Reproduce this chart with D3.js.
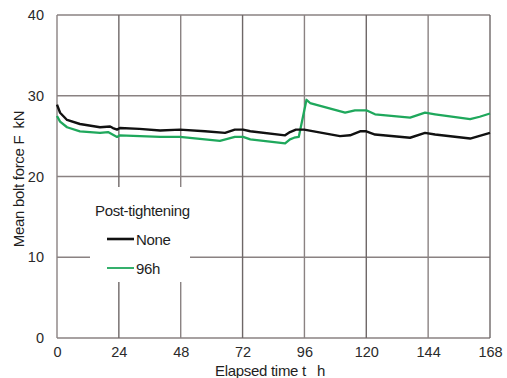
<!DOCTYPE html>
<html>
<head>
<meta charset="utf-8">
<script src="https://cdn.jsdelivr.net/npm/d3@7"></script>
<style>
  html, body { margin: 0; padding: 0; background: #fff; }
  svg { display: block; font-family: "Liberation Sans", Arial, sans-serif; }
</style>
</head>
<body>
<svg id="chart" width="507" height="378"></svg>
<script>
// Mean bolt force over elapsed time, with and without post-tightening at 96 h
const xTicks = [0, 24, 48, 72, 96, 120, 144, 168];
const yTicks = [0, 10, 20, 30, 40];

const noneHours = [0, 1.2, 3.9, 8.9, 16.7, 20.6, 21.7, 23.3, 24.4, 32, 40, 47.7, 57.4, 65.2, 69, 72.2, 75, 88.5, 90.4, 92.7, 95.9, 109.8, 113.7, 117.6, 120, 123.4, 137, 142.8, 146.7, 160.3, 168];
const noneForce = [28.9, 27.9, 27.0, 26.5, 26.1, 26.2, 26.0, 25.8, 26.0, 25.9, 25.7, 25.8, 25.6, 25.4, 25.8, 25.8, 25.6, 25.1, 25.5, 25.8, 25.8, 25.0, 25.1, 25.6, 25.6, 25.2, 24.8, 25.4, 25.2, 24.7, 25.4];

const retightHours = [0, 1.2, 3.9, 8.9, 16.7, 19.8, 23.3, 24.4, 40, 47.7, 63.2, 69, 72.2, 75, 88.5, 90.4, 92, 93.8, 96.8, 98.2, 111.8, 115.6, 120, 123.4, 137, 142.8, 146.7, 160.3, 164, 168];
const retightForce = [27.5, 26.8, 26.1, 25.6, 25.4, 25.5, 24.9, 25.1, 24.9, 24.9, 24.4, 24.9, 24.9, 24.6, 24.1, 24.6, 24.8, 24.9, 29.5, 29.1, 27.9, 28.2, 28.2, 27.7, 27.3, 27.9, 27.7, 27.1, 27.4, 27.8];

const seriesNames = ["None", "96h"];
const seriesColors = ["#111111", "#1fa85c"];

const margin = { left: 57, right: 17, top: 15, bottom: 40 };
const width = 507, height = 378;
const svg = d3.select("#chart");

const x = d3.scaleLinear().domain([0, 168]).range([margin.left, width - margin.right]);
const y = d3.scaleLinear().domain([0, 40]).range([height - margin.bottom, margin.top]);

const gridColor = "#8a8282";

// grid
svg.append("g").selectAll("line").data(yTicks).join("line")
  .attr("x1", x(0)).attr("x2", x(168))
  .attr("y1", d => y(d)).attr("y2", d => y(d))
  .attr("stroke", gridColor).attr("stroke-width", 1.4);
svg.append("g").selectAll("line").data(xTicks).join("line")
  .attr("y1", y(0)).attr("y2", y(40))
  .attr("x1", d => x(d)).attr("x2", d => x(d))
  .attr("stroke", d => (d / 24) % 2 === 1 ? "#6e6767" : gridColor)
  .attr("stroke-width", 1.4);

// tick labels
const xAxis = d3.axisBottom(x).tickValues(xTicks).tickSize(0).tickPadding(9);
const gx = svg.append("g").attr("transform", `translate(0,${y(0)})`).call(xAxis);
const yAxis = d3.axisLeft(y).tickValues(yTicks).tickSize(0).tickPadding(13);
const gy = svg.append("g").attr("transform", `translate(${x(0)},0)`).call(yAxis);
[gx, gy].forEach(g => {
  g.select(".domain").remove();
  g.selectAll("text").attr("font-size", 14.5).attr("fill", "#2a2a2a")
    .attr("font-family", "Liberation Sans, Arial, sans-serif");
});

// axis titles
svg.append("text")
  .attr("x", 270).attr("y", 376)
  .attr("text-anchor", "middle").attr("font-size", 15).attr("letter-spacing", -0.3).attr("fill", "#1e1e1e")
  .text("Elapsed time t\u2002 h");
svg.append("text")
  .attr("transform", `translate(24,179) rotate(-90)`)
  .attr("text-anchor", "middle").attr("font-size", 15).attr("letter-spacing", -0.3).attr("fill", "#1e1e1e")
  .text("Mean bolt force F\u2002kN");

// legend panel
svg.append("rect").attr("x", 90).attr("y", 187).attr("width", 100).attr("height", 95).attr("fill", "#fff");
svg.append("text").attr("x", 95).attr("y", 216).attr("font-size", 15).attr("letter-spacing", -0.35).attr("fill", "#1e1e1e").text("Post-tightening");
seriesNames.forEach((n, i) => {
  const ly = 239 + i * 29;
  svg.append("line").attr("x1", 107).attr("x2", 134).attr("y1", ly).attr("y2", ly)
    .attr("stroke", seriesColors[i]).attr("stroke-width", i === 0 ? 2.6 : 1.8);
  svg.append("text").attr("x", 136).attr("y", ly + 5.5).attr("font-size", 15).attr("letter-spacing", -0.3).attr("fill", "#1e1e1e").text(n);
});

// series lines
const line = d3.line().x(d => x(d[0])).y(d => y(d[1]));
const lineData = [
  d3.zip(noneHours, noneForce),
  d3.zip(retightHours, retightForce)
];
svg.append("path").datum(lineData[1]).attr("d", line)
  .attr("fill", "none").attr("stroke", seriesColors[1]).attr("stroke-width", 2.3).attr("stroke-linejoin", "round");
svg.append("path").datum(lineData[0]).attr("d", line)
  .attr("fill", "none").attr("stroke", seriesColors[0]).attr("stroke-width", 2.4).attr("stroke-linejoin", "round");
</script>
</body>
</html>
